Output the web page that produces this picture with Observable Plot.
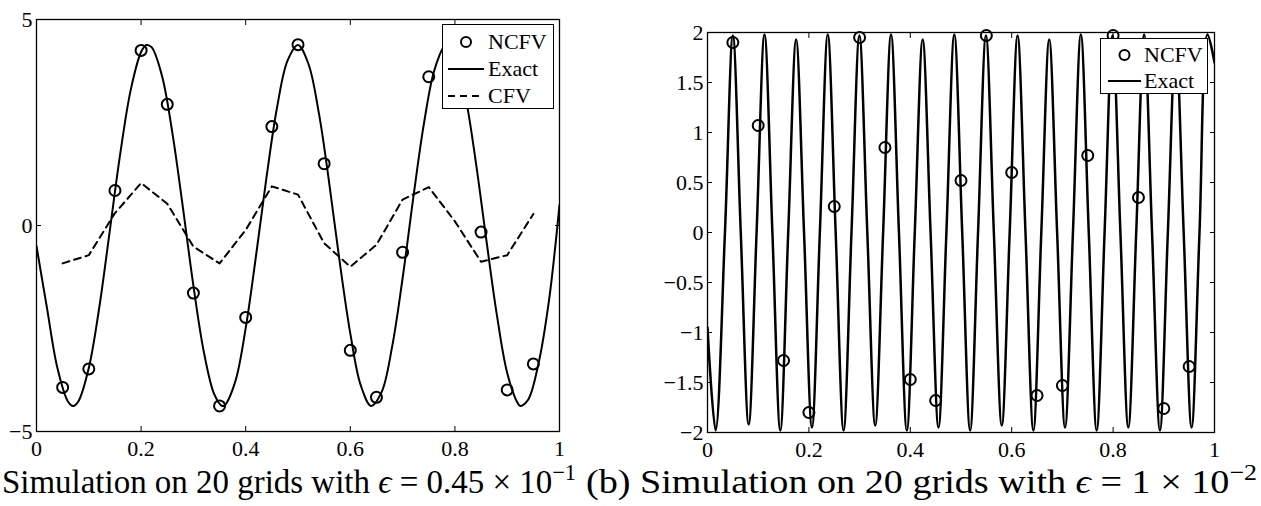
<!DOCTYPE html>
<html>
<head>
<meta charset="utf-8">
<script src="https://cdn.jsdelivr.net/npm/d3@7"></script>
<script src="https://cdn.jsdelivr.net/npm/@observablehq/plot@0.6"></script>
<style>
  html, body { margin: 0; padding: 0; background: #fff; }
  #root { position: relative; width: 1261px; height: 506px; overflow: hidden; font-family: "Liberation Serif", serif; color: #000; }
  .panel { position: absolute; top: 0; }
  .legend { position: absolute; background: #fff; border: 1px solid #000; box-sizing: border-box; font-size: 22px; z-index: 5; }
  .legend .row { position: absolute; left: 0; display: flex; align-items: center; white-space: nowrap; }
  .legend svg { display: block; }
  .cap { position: absolute; top: 461px; font-size: 34px; line-height: 42px; white-space: nowrap; transform-origin: 0 50%; }
  .cap sup { font-size: 0.68em; vertical-align: 0.55em; line-height: 0; }
</style>
</head>
<body>
<div id="root"></div>
<script>
// ---------- data ----------
const xTicks = [0, 0.2, 0.4, 0.6, 0.8, 1];
const yTicksLeft = [-5, 0, 5];
const yTicksRight = [-2, -1.5, -1, -0.5, 0, 0.5, 1, 1.5, 2];
const gridX = [0.05, 0.10, 0.15, 0.20, 0.25, 0.30, 0.35, 0.40, 0.45, 0.50,
               0.55, 0.60, 0.65, 0.70, 0.75, 0.80, 0.85, 0.90, 0.95];

// (a) epsilon = 0.45e-1
const ncfvLeft = [-3.93, -3.48, 0.85, 4.25, 2.94, -1.64, -4.38, -2.23, 2.40, 4.39,
                  1.50, -3.03, -4.17, -0.65, 3.61, 4.30, -0.16, -3.99, -3.36];
const cfvLeft  = [-0.92, -0.72, 0.30, 1.03, 0.53, -0.51, -0.92, -0.11, 0.95, 0.75,
                  -0.43, -1.00, -0.47, 0.63, 0.93, 0.10, -0.88, -0.72, 0.28];
const exactLeftX = [0, 0.02, 0.04, 0.06, 0.07, 0.08, 0.10, 0.12, 0.14, 0.16, 0.18, 0.20, 0.21, 0.22, 0.24,
                    0.26, 0.28, 0.30, 0.32, 0.34, 0.355, 0.36, 0.38, 0.40, 0.42, 0.44, 0.46, 0.48, 0.50,
                    0.52, 0.54, 0.56, 0.58, 0.60, 0.62, 0.64, 0.66, 0.68, 0.70, 0.72, 0.74, 0.76, 0.78,
                    0.785, 0.80, 0.82, 0.84, 0.86, 0.88, 0.90, 0.92, 0.925, 0.94, 0.96, 0.98, 1.00];
const exactLeftY = [-0.5, -2.0, -3.46, -4.27, -4.38, -4.27, -3.46, -1.99, -0.14, 1.73, 3.28, 4.21, 4.38, 4.33, 3.63,
                    2.23, 0.43, -1.46, -3.07, -4.10, -4.38, -4.36, -3.79, -2.49, -0.71, 1.19, 2.87, 4.00, 4.38,
                    3.92, 2.72, 1.00, -0.91, -2.62, -3.88, -4.38, -4.04, -2.94, -1.28, 0.63, 2.41, 3.74, 4.36,
                    4.40, 4.14, 3.14, 1.54, -0.34, -2.15, -3.58, -4.31, -4.38, -4.23, -3.34, -1.81, 0.5];

// (b) epsilon = 1e-2
const ncfvRight = [1.90, 1.07, -1.28, -1.80, 0.26, 1.95, 0.85, -1.47, -1.68, 0.52,
                   1.97, 0.60, -1.63, -1.53, 0.77, 1.97, 0.35, -1.76, -1.34];
const exactRightX = [0, 0.016, 0.0344,
  0.05, 0.0656, 0.0812, 0.0968, 0.1124, 0.128, 0.1436, 0.1592, 0.1748, 0.1904, 0.206, 0.2216,
  0.2372, 0.2528, 0.2684, 0.284, 0.2996, 0.3152, 0.3308, 0.3464, 0.362, 0.3776, 0.3932, 0.4088,
  0.4244, 0.44, 0.4556, 0.4712, 0.4868, 0.5024, 0.518, 0.5336, 0.5492, 0.5648, 0.5804, 0.596,
  0.6116, 0.6272, 0.6428, 0.6584, 0.674, 0.6896, 0.7052, 0.7208, 0.7364, 0.752, 0.7676, 0.7832,
  0.7988, 0.8144, 0.83, 0.8456, 0.8612, 0.8768, 0.8924, 0.908, 0.9236, 0.9392, 0.9548, 0.9704,
  0.986, 1.0];
const exactRightY = [-0.95, -1.98, 0,
  1.97, 0, -1.92, 0,  1.98, 0, -1.98, 0,  1.93, 0, -1.95, 0,
  1.98, 0, -1.98, 0,  1.97, 0, -1.93, 0,  1.98, 0, -1.98, 0,
  1.93, 0, -1.95, 0,  1.98, 0, -1.98, 0,  1.97, 0, -1.93, 0,
  1.97, 0, -1.98, 0,  1.93, 0, -1.95, 0,  1.98, 0, -1.98, 0,
  1.97, 0, -1.95, 0,  1.98, 0, -1.98, 0,  1.93, 0, -1.95, 0,
  1.98, 1.7];

const seriesLeft = ["NCFV", "Exact", "CFV"];
const seriesRight = ["NCFV", "Exact"];
const captionLeft = ["Simulation on 20 grids with ", "ϵ", " = 0.45 × 10", "−1"];
const captionRight = ["(b) Simulation on 20 grids with ", "ϵ", " = 1 × 10", "−2"];

// ---------- build ----------
const FONT = "Liberation Serif";
const fmt = d3.format("");
const pts = (xs, ys) => xs.map((x, i) => ({x, y: ys[i]}));
const innerX = xTicks.slice(1, -1);

function panel({yDomain, yTicks, innerY, width, height, mL, mR, mT, mB, marks}) {
  return Plot.plot({
    width, height,
    marginLeft: mL, marginRight: mR, marginTop: mT, marginBottom: mB,
    x: {domain: [0, 1], label: null},
    y: {domain: yDomain, label: null},
    style: {fontFamily: FONT, fontSize: "22px", color: "#000", background: "transparent", overflow: "visible"},
    marks: [
      ...marks,
      Plot.frame({stroke: "#000", strokeWidth: 1.3}),
      Plot.axisX({ticks: xTicks, anchor: "bottom", tickSize: 0, tickPadding: 9, tickFormat: fmt, fontSize: 22, fontFamily: FONT}),
      Plot.axisX({ticks: innerX, anchor: "bottom", tickSize: -5, tickFormat: () => ""}),
      Plot.axisX({ticks: innerX, anchor: "top", tickSize: -5, tickFormat: () => ""}),
      Plot.axisY({ticks: yTicks, anchor: "left", tickSize: 0, tickPadding: 4, tickFormat: fmt, fontSize: 22, fontFamily: FONT}),
      Plot.axisY({ticks: innerY, anchor: "left", tickSize: -5, tickFormat: () => ""}),
      Plot.axisY({ticks: innerY, anchor: "right", tickSize: -5, tickFormat: () => ""})
    ]
  });
}

const root = document.getElementById("root");

const left = panel({
  yDomain: [-5, 5], yTicks: yTicksLeft, innerY: yTicksLeft.slice(1, -1),
  width: 600, height: 470, mL: 36, mR: 41, mT: 19, mB: 39,
  marks: [
    Plot.line(pts(exactLeftX, exactLeftY), {x: "x", y: "y", stroke: "#000", strokeWidth: 2, curve: "catmull-rom", clip: true}),
    Plot.line(pts(gridX, cfvLeft), {x: "x", y: "y", stroke: "#000", strokeWidth: 2, strokeDasharray: "7,5"}),
    Plot.dot(pts(gridX, ncfvLeft), {x: "x", y: "y", r: 5.5, stroke: "#000", strokeWidth: 2, fill: "none"})
  ]
});
left.classList.add("panel"); left.style.left = "0px"; root.appendChild(left);

const right = panel({
  yDomain: [-2, 2], yTicks: yTicksRight, innerY: yTicksRight.slice(1, -1),
  width: 600, height: 470, mL: 67, mR: 26, mT: 32, mB: 38,
  marks: [
    Plot.line(pts(exactRightX, exactRightY), {x: "x", y: "y", stroke: "#000", strokeWidth: 2.5, curve: "catmull-rom", clip: true}),
    Plot.dot(pts(gridX, ncfvRight), {x: "x", y: "y", r: 5.5, stroke: "#000", strokeWidth: 2, fill: "none"})
  ]
});
right.classList.add("panel"); right.style.left = "640px"; root.appendChild(right);

// legends
function swatch(kind, w) {
  const ns = "http://www.w3.org/2000/svg";
  const s = document.createElementNS(ns, "svg");
  s.setAttribute("width", w); s.setAttribute("height", 14);
  if (kind === "NCFV") {
    const c = document.createElementNS(ns, "circle");
    c.setAttribute("cx", w / 2); c.setAttribute("cy", 7); c.setAttribute("r", 5);
    c.setAttribute("fill", "none"); c.setAttribute("stroke", "#000"); c.setAttribute("stroke-width", 2);
    s.appendChild(c);
  } else {
    const l = document.createElementNS(ns, "line");
    l.setAttribute("x1", 0); l.setAttribute("x2", w); l.setAttribute("y1", 7); l.setAttribute("y2", 7);
    l.setAttribute("stroke", "#000"); l.setAttribute("stroke-width", 2);
    if (kind === "CFV") l.setAttribute("stroke-dasharray", "7,5");
    s.appendChild(l);
  }
  return s;
}
function legend(names, {left, top, width, height, first, step, padL, sw, gap}) {
  const box = document.createElement("div");
  box.className = "legend";
  Object.assign(box.style, {left: left + "px", top: top + "px", width: width + "px", height: height + "px"});
  names.forEach((n, i) => {
    const row = document.createElement("div");
    row.className = "row";
    row.style.top = (first + i * step - 13) + "px";
    row.style.height = "26px";
    row.style.paddingLeft = padL + "px";
    const sv = swatch(n, sw);
    sv.style.marginRight = gap + "px";
    row.appendChild(sv);
    const t = document.createElement("span");
    t.textContent = n;
    row.appendChild(t);
    box.appendChild(row);
  });
  root.appendChild(box);
}
legend(seriesLeft, {left: 442, top: 24, width: 112, height: 85, first: 17, step: 27, padL: 5, sw: 36, gap: 4});
legend(seriesRight, {left: 1100, top: 38, width: 108, height: 56, first: 16, step: 26, padL: 7, sw: 33, gap: 3});

// captions (stretched to the reference's extents)
function caption(parts, x0, x1) {
  const d = document.createElement("div");
  d.className = "cap";
  d.style.left = x0 + "px";
  d.appendChild(document.createTextNode(parts[0]));
  const i = document.createElement("i"); i.textContent = parts[1]; d.appendChild(i);
  d.appendChild(document.createTextNode(parts[2]));
  const s = document.createElement("sup"); s.textContent = parts[3]; d.appendChild(s);
  root.appendChild(d);
  const w = d.getBoundingClientRect().width;
  if (w > 0) d.style.transform = `scaleX(${(x1 - x0) / w})`;
}
caption(captionLeft, 2, 576);
caption(captionRight, 586, 1257);
</script>
</body>
</html>
